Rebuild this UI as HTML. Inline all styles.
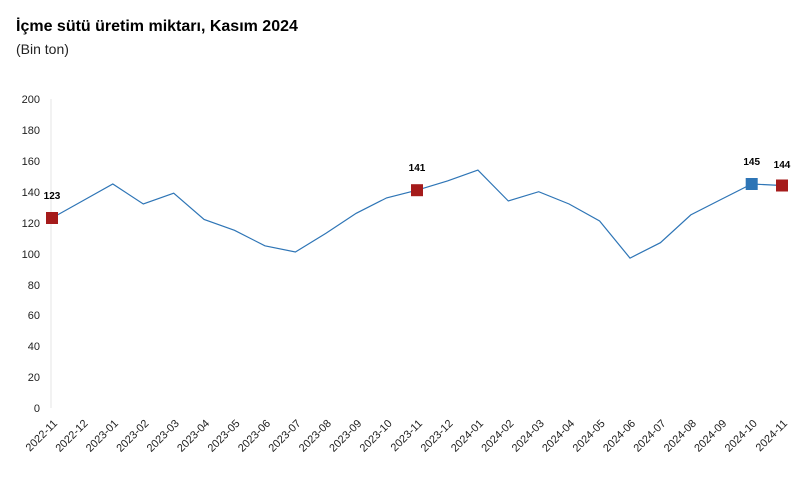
<!DOCTYPE html>
<html><head><meta charset="utf-8"><style>
body{margin:0;background:#fff;width:811px;height:495px;overflow:hidden;font-family:"Liberation Sans",sans-serif}
</style></head><body>
<svg width="811" height="495" xmlns="http://www.w3.org/2000/svg" font-family="Liberation Sans, sans-serif">
<text x="16" y="31" font-size="16" font-weight="bold" fill="#000">İçme sütü üretim miktarı, Kasım 2024</text>
<text x="16" y="54" font-size="14" fill="#222">(Bin ton)</text>
<line x1="51" y1="99" x2="51" y2="408" stroke="#e6e6e6"/>
<g font-size="11" fill="#222" text-anchor="end">
<text x="40" y="103">200</text><text x="40" y="134">180</text><text x="40" y="165">160</text><text x="40" y="196">140</text><text x="40" y="227">120</text><text x="40" y="258">100</text><text x="40" y="289">80</text><text x="40" y="319">60</text><text x="40" y="350">40</text><text x="40" y="381">20</text><text x="40" y="412">0</text>
</g>
<polyline fill="none" stroke="#2e75b6" stroke-width="1.2" points="52,218 82.4,201 112.8,184 143.3,204 173.7,193.2 204.1,219.5 234.5,230.3 264.9,245.8 295.4,252 325.8,233.4 356.2,213.3 386.6,197.9 417,190.2 447.5,180.9 477.9,170.1 508.3,201 538.7,191.7 569.1,204 599.6,221 630,258.1 660.4,242.7 690.8,214.9 721.2,199.4 751.7,184 782,185.5"/>
<rect x="46" y="212" width="12" height="12" fill="#a51b1b"/>
<rect x="411" y="184.2" width="12" height="12" fill="#a51b1b"/>
<rect x="745.7" y="178" width="12" height="12" fill="#2e75b6"/>
<rect x="776" y="179.5" width="12" height="12" fill="#a51b1b"/>
<g font-size="10" font-weight="bold" fill="#000" text-anchor="middle">
<text x="52" y="199">123</text><text x="417" y="171">141</text><text x="751.7" y="165">145</text><text x="782" y="168">144</text>
</g>
<g font-size="11" fill="#222" text-anchor="end">
<text transform="translate(58,424) rotate(-45)">2022-11</text>
<text transform="translate(88.4,424) rotate(-45)">2022-12</text>
<text transform="translate(118.8,424) rotate(-45)">2023-01</text>
<text transform="translate(149.3,424) rotate(-45)">2023-02</text>
<text transform="translate(179.7,424) rotate(-45)">2023-03</text>
<text transform="translate(210.1,424) rotate(-45)">2023-04</text>
<text transform="translate(240.5,424) rotate(-45)">2023-05</text>
<text transform="translate(270.9,424) rotate(-45)">2023-06</text>
<text transform="translate(301.4,424) rotate(-45)">2023-07</text>
<text transform="translate(331.8,424) rotate(-45)">2023-08</text>
<text transform="translate(362.2,424) rotate(-45)">2023-09</text>
<text transform="translate(392.6,424) rotate(-45)">2023-10</text>
<text transform="translate(423,424) rotate(-45)">2023-11</text>
<text transform="translate(453.5,424) rotate(-45)">2023-12</text>
<text transform="translate(483.9,424) rotate(-45)">2024-01</text>
<text transform="translate(514.3,424) rotate(-45)">2024-02</text>
<text transform="translate(544.7,424) rotate(-45)">2024-03</text>
<text transform="translate(575.1,424) rotate(-45)">2024-04</text>
<text transform="translate(605.6,424) rotate(-45)">2024-05</text>
<text transform="translate(636,424) rotate(-45)">2024-06</text>
<text transform="translate(666.4,424) rotate(-45)">2024-07</text>
<text transform="translate(696.8,424) rotate(-45)">2024-08</text>
<text transform="translate(727.2,424) rotate(-45)">2024-09</text>
<text transform="translate(757.7,424) rotate(-45)">2024-10</text>
<text transform="translate(788,424) rotate(-45)">2024-11</text>
</g>
</svg>
</body></html>
